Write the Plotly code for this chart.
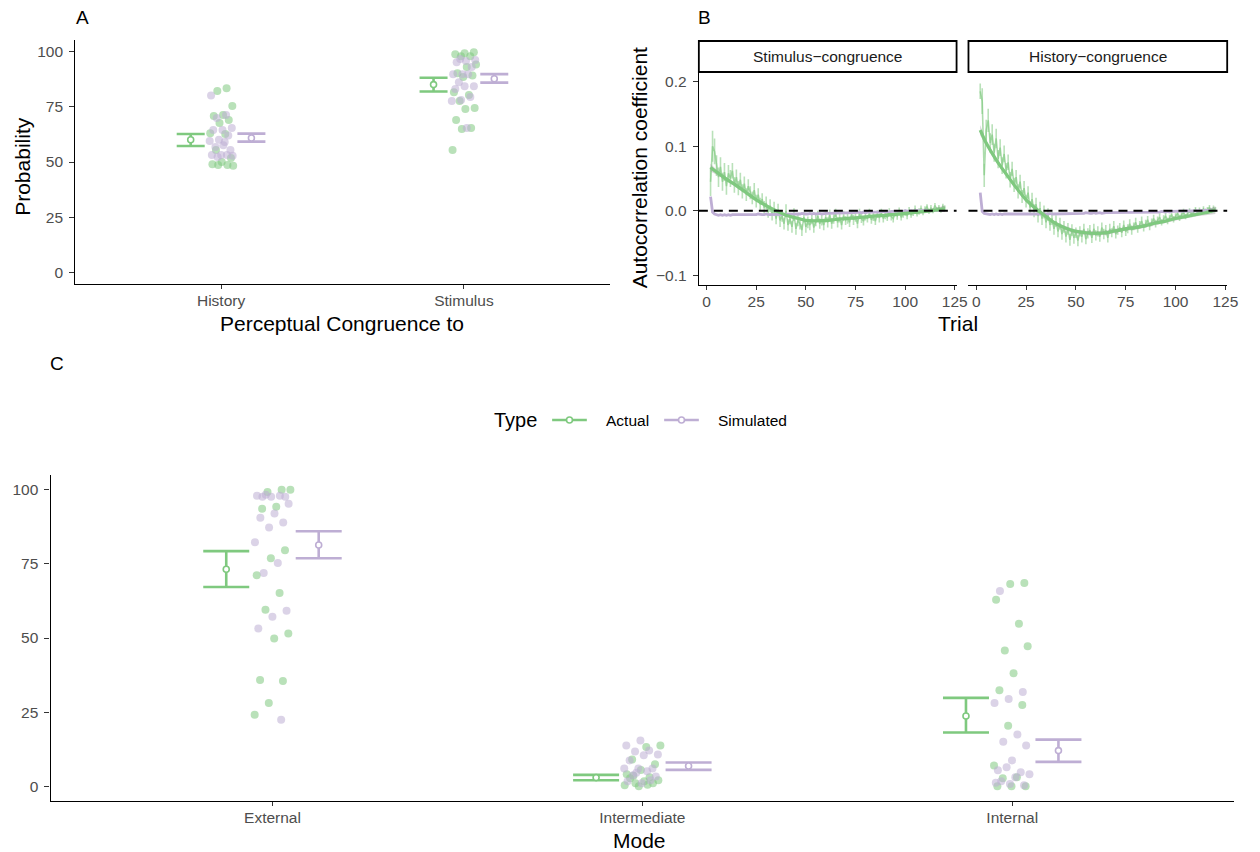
import plotly.graph_objects as go

W, H = 1260, 852
FONT = "Liberation Sans"
GREEN = "#7FC97F"
PURPLE = "#BEAED4"

# ---------------- Panel A: perceptual congruence ----------------
cong_levels = ["History", "Stimulus"]
hist_actual = [83.3, 82.0, 75.2, 71.2, 70.7, 68.9, 67.6, 63.0, 62.6, 55.4, 51.8, 50.0,
               49.0, 48.6, 48.6, 48.3]
hist_sim = [80.0, 71.2, 69.8, 65.3, 64.4, 64.4, 62.0, 60.0, 59.5, 59.0, 56.8, 55.4,
            53.2, 53.2, 53.2, 52.2, 52.8, 57.5]
stim_actual = [99.5, 99.0, 98.6, 97.7, 97.7, 94.0, 92.8, 90.0, 89.0, 88.3, 81.5, 80.2,
               77.5, 74.3, 73.9, 68.9, 65.3, 64.9, 55.4]
stim_sim = [96.4, 96.0, 95.5, 95.0, 92.8, 89.6, 89.6, 89.6, 86.0, 84.2, 84.2, 82.9,
            79.3, 78.0, 77.5, 65.3]

cong_actual_mean = [60.0, 84.9]
cong_actual_lo = [57.2, 81.8]
cong_actual_hi = [62.6, 88.0]
cong_sim_mean = [60.8, 87.5]
cong_sim_lo = [59.2, 85.8]
cong_sim_hi = [62.8, 89.6]

# ---------------- Panel B: autocorrelation by trial ----------------
trials = list(range(2, 121))
sc_actual = [
    0.045, 0.100, 0.092, 0.070, 0.052, 0.068, 0.045, 0.060, 0.038, 0.058,
    0.050, 0.062, 0.040, 0.052, 0.035, 0.048, 0.030, 0.042, 0.025, 0.038,
    0.028, 0.020, 0.032, 0.015, 0.025, 0.010, 0.018, 0.005, 0.012, -0.002,
    0.008, -0.006, 0.004, -0.012, 0.002, -0.015, -0.008, -0.020, 0.000, -0.022,
    -0.012, -0.025, -0.006, -0.028, -0.015, -0.020, -0.030, -0.010, -0.025, -0.018,
    -0.022, -0.012, -0.026, -0.015, -0.008, -0.020, -0.014, -0.022, -0.010, -0.018,
    -0.006, -0.020, -0.012, -0.004, -0.018, -0.010, -0.022, -0.008, -0.015, -0.012,
    -0.018, -0.006, -0.014, -0.010, -0.020, -0.004, -0.012, -0.016, -0.008, -0.012,
    -0.004, -0.014, -0.009, -0.016, -0.005, -0.011, -0.003, -0.012, -0.007, -0.010,
    -0.002, -0.009, -0.012, -0.004, -0.008, -0.001, -0.010, -0.005, -0.003, -0.008,
    0.001, -0.006, -0.003, 0.003, -0.004, -0.001, 0.004, -0.002, 0.002, 0.006,
    -0.001, 0.004, 0.000, 0.008, 0.002, 0.005, 0.001, 0.007, 0.004]
sc_actual_se = [
    0.022, 0.024, 0.020, 0.016, 0.015, 0.015, 0.014, 0.014, 0.013, 0.013,
    0.013, 0.012, 0.012, 0.012, 0.011, 0.011, 0.011, 0.011, 0.010, 0.011,
    0.010, 0.010, 0.011, 0.010, 0.010, 0.010, 0.009, 0.010, 0.010, 0.009,
    0.010, 0.009, 0.010, 0.009, 0.009, 0.010, 0.009, 0.009, 0.010, 0.009,
    0.009, 0.009, 0.010, 0.009, 0.009, 0.009, 0.009, 0.008, 0.009, 0.009,
    0.008, 0.009, 0.008, 0.009, 0.008, 0.008, 0.009, 0.008, 0.008, 0.008,
    0.008, 0.008, 0.008, 0.007, 0.008, 0.008, 0.007, 0.008, 0.007, 0.008,
    0.007, 0.007, 0.008, 0.007, 0.007, 0.007, 0.007, 0.007, 0.007, 0.006,
    0.007, 0.006, 0.007, 0.006, 0.006, 0.007, 0.006, 0.006, 0.006, 0.006,
    0.006, 0.006, 0.006, 0.005, 0.006, 0.006, 0.005, 0.006, 0.005, 0.005,
    0.005, 0.005, 0.005, 0.005, 0.005, 0.005, 0.004, 0.005, 0.005, 0.004,
    0.004, 0.005, 0.004, 0.004, 0.004, 0.004, 0.004, 0.004, 0.004]
sc_sim = [
    0.022, -0.002, -0.005, -0.006, -0.007, -0.006, -0.007, -0.006, -0.007, -0.006,
    -0.007, -0.006, -0.006, -0.007, -0.006, -0.006, -0.007, -0.006, -0.006, -0.006,
    -0.007, -0.006, -0.006, -0.006, -0.005, -0.006, -0.006, -0.006, -0.005, -0.006,
    -0.006, -0.005, -0.006, -0.005, -0.006, -0.005, -0.005, -0.006, -0.005, -0.005,
    -0.005, -0.005, -0.006, -0.005, -0.005, -0.005, -0.004, -0.005, -0.005, -0.005,
    -0.004, -0.005, -0.004, -0.005, -0.004, -0.004, -0.005, -0.004, -0.004, -0.004,
    -0.004, -0.004, -0.003, -0.004, -0.004, -0.003, -0.004, -0.003, -0.003, -0.004,
    -0.003, -0.003, -0.003, -0.003, -0.002, -0.003, -0.003, -0.002, -0.003, -0.002,
    -0.002, -0.003, -0.002, -0.002, -0.002, -0.002, -0.001, -0.002, -0.002, -0.001,
    -0.002, -0.001, -0.001, -0.002, -0.001, -0.001, -0.001, -0.001, 0.000, -0.001,
    -0.001, 0.000, -0.001, 0.000, 0.000, -0.001, 0.000, 0.000, 0.001, 0.000,
    0.000, 0.001, 0.000, 0.001, 0.001, 0.000, 0.001, 0.001, 0.001]

hc_actual = [
    0.185, 0.170, 0.055, 0.125, 0.140, 0.105, 0.118, 0.090, 0.112, 0.080,
    0.098, 0.070, 0.088, 0.062, 0.075, 0.048, 0.065, 0.040, 0.052, 0.030,
    0.045, 0.022, 0.035, 0.015, 0.028, 0.005, 0.018, 0.000, 0.010, -0.008,
    0.004, -0.012, -0.002, -0.018, -0.006, -0.022, -0.012, -0.028, -0.016, -0.032,
    -0.020, -0.036, -0.025, -0.040, -0.028, -0.045, -0.030, -0.042, -0.034, -0.046,
    -0.032, -0.040, -0.028, -0.044, -0.035, -0.030, -0.042, -0.028, -0.038, -0.032,
    -0.040, -0.026, -0.036, -0.030, -0.042, -0.028, -0.034, -0.024, -0.036, -0.030,
    -0.026, -0.034, -0.022, -0.032, -0.028, -0.020, -0.030, -0.024, -0.018, -0.028,
    -0.022, -0.016, -0.026, -0.020, -0.014, -0.024, -0.018, -0.012, -0.020, -0.015,
    -0.010, -0.018, -0.013, -0.008, -0.016, -0.011, -0.006, -0.013, -0.009, -0.004,
    -0.011, -0.007, -0.002, -0.009, -0.005, 0.000, -0.006, -0.002, 0.002, -0.004,
    0.001, -0.002, 0.003, -0.001, 0.002, 0.005, 0.000, 0.004, 0.002]
hc_actual_se = [
    0.012, 0.020, 0.018, 0.016, 0.018, 0.015, 0.016, 0.014, 0.015, 0.014,
    0.013, 0.013, 0.013, 0.012, 0.012, 0.012, 0.011, 0.011, 0.011, 0.011,
    0.011, 0.010, 0.011, 0.010, 0.010, 0.010, 0.010, 0.010, 0.010, 0.010,
    0.010, 0.010, 0.010, 0.009, 0.010, 0.009, 0.010, 0.009, 0.009, 0.009,
    0.009, 0.009, 0.009, 0.009, 0.009, 0.009, 0.009, 0.009, 0.008, 0.009,
    0.008, 0.009, 0.008, 0.008, 0.008, 0.008, 0.008, 0.008, 0.008, 0.008,
    0.008, 0.008, 0.008, 0.008, 0.007, 0.008, 0.007, 0.008, 0.007, 0.007,
    0.007, 0.007, 0.007, 0.007, 0.007, 0.007, 0.007, 0.006, 0.007, 0.006,
    0.006, 0.007, 0.006, 0.006, 0.006, 0.006, 0.006, 0.006, 0.006, 0.006,
    0.006, 0.005, 0.006, 0.005, 0.005, 0.005, 0.005, 0.005, 0.005, 0.005,
    0.005, 0.005, 0.005, 0.004, 0.005, 0.004, 0.004, 0.004, 0.004, 0.004,
    0.004, 0.004, 0.004, 0.004, 0.004, 0.004, 0.004, 0.004, 0.004]
hc_sim = [
    0.028, -0.001, -0.004, -0.005, -0.005, -0.006, -0.005, -0.006, -0.005, -0.006,
    -0.005, -0.006, -0.005, -0.005, -0.006, -0.005, -0.005, -0.005, -0.006, -0.005,
    -0.005, -0.005, -0.005, -0.006, -0.005, -0.005, -0.005, -0.005, -0.005, -0.005,
    -0.005, -0.004, -0.005, -0.005, -0.005, -0.004, -0.005, -0.005, -0.004, -0.005,
    -0.004, -0.005, -0.004, -0.004, -0.005, -0.004, -0.004, -0.004, -0.004, -0.004,
    -0.004, -0.004, -0.004, -0.003, -0.004, -0.004, -0.004, -0.003, -0.004, -0.003,
    -0.003, -0.004, -0.003, -0.003, -0.003, -0.003, -0.003, -0.003, -0.003, -0.003,
    -0.003, -0.003, -0.003, -0.002, -0.003, -0.003, -0.002, -0.003, -0.002, -0.002,
    -0.002, -0.002, -0.003, -0.002, -0.002, -0.002, -0.002, -0.002, -0.002, -0.002,
    -0.002, -0.001, -0.002, -0.002, -0.001, -0.002, -0.001, -0.001, -0.001, -0.001,
    -0.001, -0.001, -0.001, -0.001, 0.000, -0.001, -0.001, 0.000, -0.001, 0.000,
    0.000, 0.000, 0.000, 0.001, 0.000, 0.000, 0.001, 0.001, 0.001]

# loess-style trend of the actual series (with its standard error)
smooth_trials = [2, 5, 10, 15, 20, 25, 30, 35, 40, 45, 50, 55, 60, 65, 70, 75, 80,
                 85, 90, 95, 100, 105, 110, 115, 120]
sc_smooth = [0.067, 0.060, 0.049, 0.039, 0.028, 0.017, 0.008, 0.000, -0.007, -0.011,
             -0.015, -0.0155, -0.015, -0.0135, -0.012, -0.011, -0.0095, -0.008, -0.007,
             -0.0055, -0.004, -0.0025, -0.001, 0.001, 0.003]
sc_smooth_se = [0.006, 0.004, 0.003, 0.003, 0.003, 0.002, 0.002, 0.002, 0.002, 0.002,
                0.002, 0.002, 0.002, 0.002, 0.002, 0.002, 0.002, 0.002, 0.002, 0.002,
                0.002, 0.002, 0.003, 0.003, 0.005]
hc_smooth = [0.125, 0.105, 0.079, 0.057, 0.036, 0.017, 0.003, -0.009, -0.020, -0.027,
             -0.032, -0.034, -0.035, -0.034, -0.031, -0.028, -0.026, -0.023, -0.019,
             -0.016, -0.012, -0.009, -0.006, -0.003, 0.001]
hc_smooth_se = [0.008, 0.005, 0.004, 0.003, 0.003, 0.003, 0.003, 0.003, 0.003, 0.003,
                0.003, 0.003, 0.003, 0.003, 0.003, 0.003, 0.003, 0.003, 0.003, 0.003,
                0.003, 0.003, 0.003, 0.004, 0.006]

# ---------------- Panel C: mode ----------------
mode_levels = ["External", "Intermediate", "Internal"]
ext_actual = [100.0, 99.3, 100.0, 94.3, 93.6, 79.6, 76.9, 71.2, 65.2, 59.5, 51.5, 49.8,
              35.8, 35.5, 28.1, 24.1]
ext_sim = [97.7, 97.7, 97.7, 98.0, 98.0, 98.3, 95.3, 92.0, 90.6, 89.0, 87.3, 82.3,
           75.3, 71.9, 59.2, 57.2, 53.2, 22.4]
inter_actual = [13.7, 13.2, 9.0, 7.4, 5.5, 4.0, 3.0, 1.0, 2.0, 1.7, 2.7, 1.0, 0.0,
                0.3, 0.5, 3.5]
inter_sim = [15.4, 13.7, 12.0, 11.7, 10.7, 10.4, 8.7, 6.0, 6.0, 6.0, 5.0, 3.7, 3.3,
             1.0, 1.7, 2.0, 4.5]
intern_actual = [68.6, 68.2, 62.9, 54.8, 45.8, 47.2, 38.1, 32.4, 27.4, 20.4, 7.0, 3.0,
                 2.7, 0.0, 0.0, 0.0]
intern_sim = [65.9, 31.8, 29.4, 28.1, 17.4, 15.0, 13.7, 8.7, 5.4, 4.7, 6.4, 4.0, 3.0,
              1.7, 0.3, 0.7, 1.2]

mode_actual_mean = [73.2, 2.9, 23.7]
mode_actual_lo = [67.2, 2.0, 18.1]
mode_actual_hi = [79.3, 3.8, 29.8]
mode_sim_mean = [81.4, 6.8, 12.0]
mode_sim_lo = [76.9, 5.5, 8.2]
mode_sim_hi = [86.0, 8.0, 15.7]

type_levels = ["Actual", "Simulated"]


def px(x):
    return x / W


def py(y):
    return 1 - y / H


def spread(n, width, phase):
    """Deterministic horizontal jitter offsets in [-width, width]."""
    return [width * (2 * (((i + 1) * 0.6180339887 + phase) % 1.0) - 1) for i in range(n)]


def rgba(hex_color, a):
    h = hex_color.lstrip("#")
    r, g, b = int(h[0:2], 16), int(h[2:4], 16), int(h[4:6], 16)
    return f"rgba({r},{g},{b},{a})"


fig = go.Figure()


def add_points(groups, xa, ya):
    # groups: list of (category index, values, colour, phase)
    for ci, vals, col, ph in groups:
        offs = spread(len(vals), 0.05, ph)
        fig.add_trace(go.Scatter(
            x=[ci + o for o in offs], y=vals, mode="markers",
            marker=dict(size=8, color=rgba(col, 0.55), line=dict(width=0)),
            xaxis=xa, yaxis=ya, showlegend=False, hoverinfo="skip"))


def add_summary(centres, mean, lo, hi, col, shift, cap, xa, ya):
    fig.add_trace(go.Scatter(
        x=[c + shift for c in centres], y=mean, mode="markers",
        marker=dict(size=6, color="white", line=dict(color=col, width=1.6)),
        error_y=dict(type="data", symmetric=False,
                     array=[h - m for h, m in zip(hi, mean)],
                     arrayminus=[m - l for m, l in zip(mean, lo)],
                     color=col, thickness=2.6, width=cap),
        xaxis=xa, yaxis=ya, showlegend=False, hoverinfo="skip"))


# Panel A
add_points([(1, hist_actual, GREEN, 0.11), (1, hist_sim, PURPLE, 0.47),
            (2, stim_actual, GREEN, 0.29), (2, stim_sim, PURPLE, 0.73)], "x", "y")
add_summary([1, 2], cong_actual_mean, cong_actual_lo, cong_actual_hi, GREEN, -0.125, 14, "x", "y")
add_summary([1, 2], cong_sim_mean, cong_sim_lo, cong_sim_hi, PURPLE, 0.125, 14, "x", "y")

# Panel B
for xa, ya, act, act_se, sim, sm, sm_se in [
        ("x2", "y2", sc_actual, sc_actual_se, sc_sim, sc_smooth, sc_smooth_se),
        ("x3", "y3", hc_actual, hc_actual_se, hc_sim, hc_smooth, hc_smooth_se)]:
    fig.add_trace(go.Scatter(
        x=trials, y=act, mode="lines",
        line=dict(color=rgba(GREEN, 0.65), width=1.6),
        error_y=dict(type="data", array=act_se, color=rgba(GREEN, 0.55),
                     thickness=1.6, width=0),
        xaxis=xa, yaxis=ya, showlegend=False, hoverinfo="skip"))
    fig.add_trace(go.Scatter(
        x=smooth_trials, y=[m + s for m, s in zip(sm, sm_se)], mode="lines",
        line=dict(width=0, shape="spline"), xaxis=xa, yaxis=ya,
        showlegend=False, hoverinfo="skip"))
    fig.add_trace(go.Scatter(
        x=smooth_trials, y=[m - s for m, s in zip(sm, sm_se)], mode="lines",
        line=dict(width=0, shape="spline"), fill="tonexty",
        fillcolor="rgba(153,153,153,0.4)", xaxis=xa, yaxis=ya,
        showlegend=False, hoverinfo="skip"))
    fig.add_trace(go.Scatter(
        x=trials, y=sim, mode="lines", line=dict(color=PURPLE, width=2.8),
        xaxis=xa, yaxis=ya, showlegend=False, hoverinfo="skip"))
    fig.add_trace(go.Scatter(
        x=smooth_trials, y=sm, mode="lines",
        line=dict(color=GREEN, width=3.2, shape="spline"),
        xaxis=xa, yaxis=ya, showlegend=False, hoverinfo="skip"))

# Panel C
add_points([(1, ext_actual, GREEN, 0.13), (1, ext_sim, PURPLE, 0.61),
            (2, inter_actual, GREEN, 0.37), (2, inter_sim, PURPLE, 0.83),
            (3, intern_actual, GREEN, 0.21), (3, intern_sim, PURPLE, 0.55)], "x4", "y4")
add_summary([1, 2, 3], mode_actual_mean, mode_actual_lo, mode_actual_hi, GREEN, -0.125, 23, "x4", "y4")
add_summary([1, 2, 3], mode_sim_mean, mode_sim_lo, mode_sim_hi, PURPLE, 0.125, 23, "x4", "y4")

TICK = 15.5


def axis_style(**kw):
    base = dict(showline=True, linecolor="black", linewidth=1.3, ticks="outside",
                ticklen=4, tickwidth=1.1, tickcolor="#333333", showgrid=False,
                zeroline=False, fixedrange=True,
                tickfont=dict(family=FONT, size=TICK, color="#4d4d4d"))
    base.update(kw)
    return base


trial_ticks = [0, 25, 50, 75, 100, 125]
b_ydom = [py(285), py(72)]
fig.update_layout(
    width=W, height=H, margin=dict(l=0, r=0, t=0, b=0),
    paper_bgcolor="white", plot_bgcolor="white", showlegend=False,
    font=dict(family=FONT, color="black"),
    xaxis=axis_style(domain=[px(76), px(615)], range=[0.4, 2.6], tickvals=[1, 2],
                     ticktext=cong_levels, anchor="y", ticklabelstandoff=-2),
    yaxis=axis_style(domain=[py(284), py(40)], range=[-5, 105], ticklen=5,
                     tickvals=[0, 25, 50, 75, 100], anchor="x", ticklabelstandoff=3),
    xaxis2=axis_style(domain=[px(705), px(965)], range=[-3.9, 125.9],
                      tickvals=trial_ticks, anchor="y2", ticklabelstandoff=-2),
    yaxis2=axis_style(domain=b_ydom, range=[-0.115, 0.215], ticklen=5,
                      tickvals=[-0.1, 0.0, 0.1, 0.2], ticklabelstandoff=3,
                      ticktext=["\u22120.1", "0.0", "0.1", "0.2"], anchor="x2"),
    xaxis3=axis_style(domain=[px(977), px(1238)], range=[-3.9, 125.9],
                      tickvals=trial_ticks, anchor="y3", ticklabelstandoff=-2),
    yaxis3=axis_style(domain=b_ydom, range=[-0.115, 0.215], showline=False,
                      showticklabels=False, ticks="", anchor="x3"),
    xaxis4=axis_style(domain=[px(51), px(1245)], range=[0.4, 3.6], tickvals=[1, 2, 3],
                      ticktext=mode_levels, anchor="y4", ticklabelstandoff=-2),
    yaxis4=axis_style(domain=[py(801), py(475)], range=[-5, 105], ticklen=5,
                      tickvals=[0, 25, 50, 75, 100], anchor="x4", ticklabelstandoff=3),
)

# zero reference line in both facets
for xa, ya in [("x2", "y2"), ("x3", "y3")]:
    fig.add_shape(type="line", xref=f"{xa} domain", yref=ya, x0=0, x1=1, y0=0, y1=0,
                  line=dict(color="black", width=2.2, dash="9px,6px"), layer="above")

# facet strips
for x0, x1, label in [(705, 965, "Stimulus\u2212congruence"), (977, 1238, "History\u2212congruence")]:
    fig.add_shape(type="rect", xref="paper", yref="paper", x0=px(x0), x1=px(x1),
                  y0=py(72), y1=py(41), line=dict(color="black", width=1.8),
                  fillcolor="white")
    fig.add_annotation(x=px((x0 + x1) / 2), y=py(56.5), xref="paper", yref="paper",
                       xanchor="center", yanchor="middle",
                       text=label, showarrow=False,
                       font=dict(family=FONT, size=15.5, color="#1a1a1a"))

# "Type" legend drawn above panel C: key line + open circle + label
fig.add_annotation(x=px(520), y=py(420), xref="paper", yref="paper", text="Type",
                   xanchor="center", yanchor="middle", showarrow=False,
                   font=dict(family=FONT, size=20, color="black"))
for (k0, k1, tx), name, col in zip([(557, 592, 609), (670, 705, 722)], type_levels,
                                   [GREEN, PURPLE]):
    fig.add_shape(type="line", xref="paper", yref="paper", x0=px(k0), x1=px(k1),
                  y0=py(420), y1=py(420), line=dict(color=col, width=2.4))
    cx = (k0 + k1) / 2
    fig.add_shape(type="circle", xref="paper", yref="paper",
                  x0=px(cx - 3), x1=px(cx + 3), y0=py(423), y1=py(417),
                  fillcolor="white", line=dict(color=col, width=1.6))
    fig.add_annotation(x=px(tx), y=py(420), xref="paper", yref="paper", text=name,
                       xanchor="left", yanchor="middle", showarrow=False,
                       font=dict(family=FONT, size=15.5, color="black"))

# axis titles and panel tags
texts = [
    ("Probability", 22, 166, 21, -90),
    ("Perceptual Congruence to", 345, 323, 21, 0),
    ("Autocorrelation coefficient", 646, 168, 21, -90),
    ("Trial", 966, 323, 21, 0),
    ("Mode", 645, 840, 21, 0),
    ("A", 83, 18, 19, 0),
    ("B", 711, 18, 19, 0),
    ("C", 57, 364, 19, 0),
]
for txt, x, y, size, ang in texts:
    fig.add_annotation(x=px(x), y=py(y), xref="paper", yref="paper", text=txt,
                       xanchor="center", yanchor="middle",
                       showarrow=False, textangle=ang,
                       font=dict(family=FONT, size=size, color="black"))

fig.write_html("out.html")
